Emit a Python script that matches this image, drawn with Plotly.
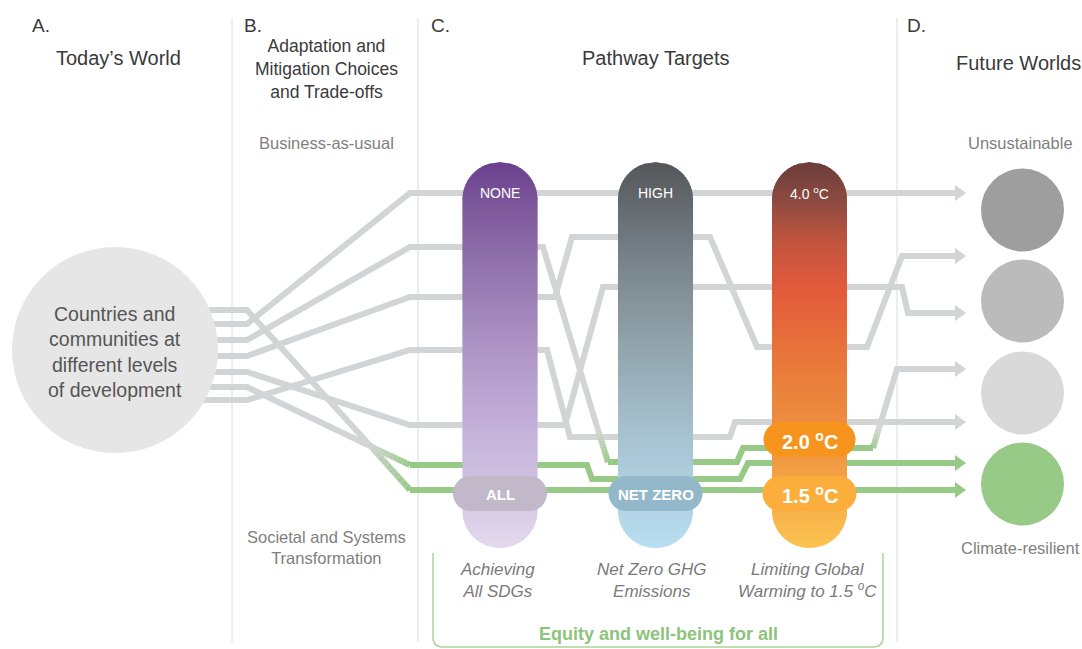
import numpy as np
import plotly.graph_objects as go

# ---------------- data ----------------
W, H = 1082, 649
GRAY = "#D3D4D6"
GREEN = "#97C987"

# pathway polylines (x, y) and green flags per vertex
p1_x = [195, 247, 410, 957]
p1_y = [324, 324, 193, 193]
p1_g = [0, 0, 0, 0]
p2_x = [195, 247, 410, 543, 598, 608, 737, 743, 873, 879, 897, 957]
p2_y = [340, 340, 247, 247, 430, 462, 462, 448, 448, 428, 369, 369]
p2_g = [0, 0, 0, 0, 0, 1, 1, 1, 1, 0, 0, 0]
p3_x = [195, 247, 410, 555, 572, 710, 757, 867, 902, 957]
p3_y = [356, 356, 297, 297, 237, 237, 347, 347, 256, 256]
p3_g = [0] * 10
p4_x = [195, 247, 410, 547, 570, 730, 735, 957]
p4_y = [400, 400, 350, 350, 437, 437, 422, 422]
p4_g = [0] * 8
p5_x = [195, 247, 410, 565, 603, 902, 908, 957]
p5_y = [372, 372, 425, 425, 287, 287, 313, 313]
p5_g = [0] * 8
p6_x = [195, 247, 370, 410, 587, 592, 740, 748, 957]
p6_y = [387, 387, 446, 465, 465, 479, 479, 463, 463]
p6_g = [0, 0, 0, 1, 1, 1, 1, 1, 1]
p7_x = [195, 247, 365, 410, 957]
p7_y = [310, 310, 440, 490, 490]
p7_g = [0, 0, 0, 1, 1]

# target bars
bar_cx = [500, 655.5, 809.5]
bar_top = 162
bar_bottom = 548
bar_w = 75
top_labels = ["NONE", "HIGH", "4.0 <sup>o</sup>C"]
pill_labels = ["ALL", "NET ZERO", "1.5 <sup>o</sup>C"]
pill_colors = ["#C1B8C9", "#93B8C9", "#FBAE3C"]
none_stop_y = [162, 200, 260, 330, 420, 470, 548]
none_stop_c = ["#6B3F8E", "#7A5599", "#8F70AA", "#A78DC0", "#C2AED8", "#CDBEE0", "#E3D9EC"]
high_stop_y = [162, 200, 260, 330, 420, 470, 548]
high_stop_c = ["#55575A", "#63686D", "#78838A", "#8E9EA6", "#A4BDCA", "#ADCCDB", "#B7DEF1"]
temp_stop_y = [162, 200, 245, 288, 380, 445, 548]
temp_stop_c = ["#6B3D3A", "#8C4A40", "#C4553F", "#E25A3B", "#EA7F3B", "#EF9340", "#FCC350"]

# future worlds
future_cy = [210, 301, 393, 484]
future_colors = ["#9E9E9E", "#BBBBBB", "#D9D9D9", "#97C987"]
arrow_y = [193, 256, 313, 369, 422, 463, 490]
arrow_green = [0, 0, 0, 0, 0, 1, 1]

# ---------------- helpers ----------------
def h2r(h):
    h = h.lstrip("#")
    return np.array([int(h[i:i + 2], 16) for i in (0, 2, 4)], dtype=float)

def r2h(c):
    return "#%02X%02X%02X" % tuple(int(round(v)) for v in c)

def mix(a, b, t):
    return r2h(h2r(a) * (1 - t) + h2r(b) * t)

fig = go.Figure()
shapes = []
annotations = []

# ---------------- pathway lines ----------------
paths = [(p7_x, p7_y, p7_g), (p1_x, p1_y, p1_g), (p3_x, p3_y, p3_g),
         (p5_x, p5_y, p5_g), (p4_x, p4_y, p4_g), (p2_x, p2_y, p2_g),
         (p6_x, p6_y, p6_g)]
LW = 6
for xs, ys, gs in paths:
    runx, runy, runc = [xs[0]], [ys[0]], gs[0]
    for i in range(len(xs) - 1):
        if gs[i] == gs[i + 1]:
            if runc != gs[i]:
                runx, runy, runc = [xs[i]], [ys[i]], gs[i]
            runx.append(xs[i + 1]); runy.append(ys[i + 1])
        else:
            if len(runx) > 1:
                fig.add_trace(go.Scatter(x=runx, y=runy, mode="lines",
                                         line=dict(color=GREEN if runc else GRAY, width=LW),
                                         hoverinfo="skip", showlegend=False))
            n = 12
            for k in range(n):
                t0, t1 = k / n, (k + 1) / n
                ca = GREEN if gs[i] else GRAY
                cb = GREEN if gs[i + 1] else GRAY
                fig.add_trace(go.Scatter(
                    x=[xs[i] + (xs[i + 1] - xs[i]) * t0, xs[i] + (xs[i + 1] - xs[i]) * t1],
                    y=[ys[i] + (ys[i + 1] - ys[i]) * t0, ys[i] + (ys[i + 1] - ys[i]) * t1],
                    mode="lines", line=dict(color=mix(ca, cb, (k + 0.5) / n), width=LW),
                    hoverinfo="skip", showlegend=False))
            runx, runy, runc = [xs[i + 1]], [ys[i + 1]], gs[i + 1]
    if len(runx) > 1:
        fig.add_trace(go.Scatter(x=runx, y=runy, mode="lines",
                                 line=dict(color=GREEN if runc else GRAY, width=LW),
                                 hoverinfo="skip", showlegend=False))

# arrow heads
for ay, ag in zip(arrow_y, arrow_green):
    col = GREEN if ag else GRAY
    shapes.append(dict(type="path", path=f"M 955,{ay-8} L 966,{ay} L 955,{ay+8} Z",
                       fillcolor=col, line=dict(width=0), layer="above"))

# ---------------- left circle ----------------
shapes.append(dict(type="circle", x0=12, x1=218, y0=247, y1=453,
                   fillcolor="#E6E6E6", line=dict(width=0), layer="above"))

# ---------------- gradient bars ----------------
def interp_color(y, sy, sc):
    cols = np.array([h2r(c) for c in sc])
    return r2h([np.interp(y, sy, cols[:, j]) for j in range(3)])

stops = [(none_stop_y, none_stop_c), (high_stop_y, high_stop_c), (temp_stop_y, temp_stop_c)]
r = bar_w / 2

def half_width(yy):
    if yy < bar_top + r:
        d = bar_top + r - yy
    elif yy > bar_bottom - r:
        d = yy - (bar_bottom - r)
    else:
        return r
    return float(np.sqrt(max(r * r - d * d, 0.0)))

edges = np.concatenate([np.linspace(bar_top, bar_top + r, 26)[:-1],
                        np.arange(bar_top + r, bar_bottom - r, 2.0),
                        np.linspace(bar_bottom - r, bar_bottom, 26)])
OV = 0.9  # overlap to hide anti-alias seams
for cx, (sy, sc) in zip(bar_cx, stops):
    n_e = len(edges)
    for j, (y0, y1) in enumerate(zip(edges[:-1], edges[1:])):
        ym = (y0 + y1) / 2
        y1e = y1 + OV if j < n_e - 2 else y1
        # width at extended edge: keep inside capsule
        w0 = half_width(y0)
        w1 = half_width(min(y1e, bar_bottom))
        if ym < bar_top + r:
            w1 = half_width(y1)
            w1e = half_width(min(y1e, bar_top + r)) if y1e <= bar_top + r else r
            p = (f"M {cx-w0:.2f},{y0:.2f} L {cx+w0:.2f},{y0:.2f} "
                 f"L {cx+w1e:.2f},{y1e:.2f} L {cx-w1e:.2f},{y1e:.2f} Z")
        else:
            p = (f"M {cx-w0:.2f},{y0:.2f} L {cx+w0:.2f},{y0:.2f} "
                 f"L {cx+w1:.2f},{y1e:.2f} L {cx-w1:.2f},{y1e:.2f} Z")
        shapes.append(dict(type="path", path=p,
                           fillcolor=interp_color(ym, sy, sc), line=dict(width=0),
                           opacity=1, layer="above"))

# pills
def pill(cx, cy, w, h):
    rr = h / 2
    pts = []
    for a in np.linspace(-np.pi / 2, np.pi / 2, 19):
        pts.append((cx + w / 2 - rr + rr * np.cos(a), cy + rr * np.sin(a)))
    for a in np.linspace(np.pi / 2, 3 * np.pi / 2, 19):
        pts.append((cx - w / 2 + rr + rr * np.cos(a), cy + rr * np.sin(a)))
    return "M " + " L ".join(f"{px:.2f},{py:.2f}" for px, py in pts) + " Z"

for cx, col in zip(bar_cx, pill_colors):
    shapes.append(dict(type="path", path=pill(cx, 493.5, 94, 35),
                       fillcolor=col, line=dict(width=0), layer="above"))
shapes.append(dict(type="path", path=pill(bar_cx[2], 439.5, 92, 35),
                   fillcolor="#F7941D", line=dict(width=0), layer="above"))

# future world circles
for cy, col in zip(future_cy, future_colors):
    shapes.append(dict(type="circle", x0=981, x1=1064, y0=cy - 41.5, y1=cy + 41.5,
                       fillcolor=col, line=dict(width=0), layer="above"))

# separators
for sx in [232, 418, 897]:
    shapes.append(dict(type="line", x0=sx, x1=sx, y0=18, y1=642,
                       line=dict(color="#DCDCDC", width=1), layer="below"))

# bracket
shapes.append(dict(type="path",
                   path="M 433,553 L 433,637 Q 433,647 443,647 L 873,647 Q 883,647 883,637 L 883,553",
                   line=dict(color="#A9D39B", width=1.5), layer="above"))

# ---------------- text ----------------
FONT = "Liberation Sans, Arial, sans-serif"

def txt(x, y, s, size=16, color="#3A3A3A", **kw):
    annotations.append(dict(x=x, y=y, text=s, showarrow=False, xref="x", yref="y",
                            font=dict(family=FONT, size=size, color=color), **kw))

txt(41, 25, "A.", 19)
txt(253, 25, "B.", 19)
txt(440, 25, "C.", 19)
txt(916, 25, "D.", 19)
txt(118, 58, "Today’s World", 20)
txt(326, 69, "Adaptation and<br>Mitigation Choices<br>and Trade-offs", 17.5)
txt(656, 58, "Pathway Targets", 20)
txt(1018, 63, "Future Worlds", 20)
txt(326, 143, "Business-as-usual", 16.5, "#808080")
txt(326, 547, "Societal and Systems<br>Transformation", 16.5, "#808080")
txt(1020, 143, "Unsustainable", 16.5, "#808080")
txt(1020, 548, "Climate-resilient", 16.5, "#808080")
txt(115, 352, "Countries and<br>communities at<br>different levels<br>of development", 19.5, "#555555")

for cx, s in zip(bar_cx, top_labels):
    txt(cx, 193, s, 14, "#FFFFFF")
for cx, s in zip(bar_cx, pill_labels):
    sz = 20 if "sup" in s else 15
    txt(cx, 494, f"<b>{s}</b>", sz, "#FFFFFF")
txt(bar_cx[2], 440, "<b>2.0 <sup>o</sup>C</b>", 20, "#FFFFFF")

txt(497, 580, "<i>Achieving<br>All SDGs</i>", 17, "#7A7A7A")
txt(652, 580, "<i>Net Zero GHG<br>Emissions</i>", 17, "#7A7A7A")
txt(807, 580, "<i>Limiting Global<br>Warming to 1.5 <sup>o</sup>C</i>", 17, "#7A7A7A")
txt(658, 634, "<b>Equity and well-being for all</b>", 18, "#8CC47C")

fig.update_layout(
    width=W, height=H, autosize=False,
    margin=dict(l=0, r=0, t=0, b=0),
    paper_bgcolor="white", plot_bgcolor="white",
    xaxis=dict(range=[0, W], visible=False, fixedrange=True),
    yaxis=dict(range=[H, 0], visible=False, fixedrange=True),
    shapes=shapes, annotations=annotations, showlegend=False,
)
fig.write_html("out.html", config={"displayModeBar": False},
               post_script="document.body.style.margin='0';document.body.style.overflow='hidden';")
